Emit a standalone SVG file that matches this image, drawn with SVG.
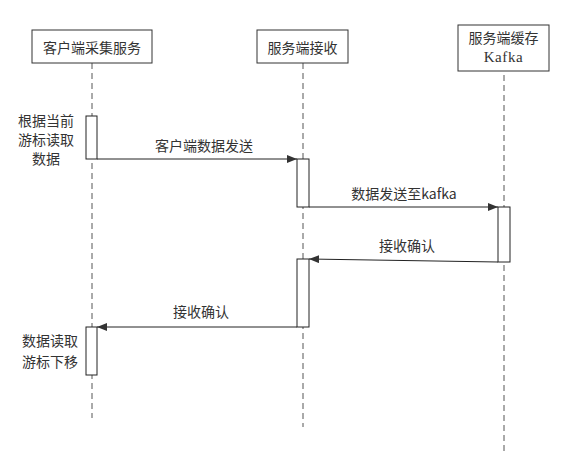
<svg xmlns="http://www.w3.org/2000/svg" width="566" height="461" viewBox="0 0 566 461">
<style>
.box{fill:#fff;stroke:#333;stroke-width:1}
.act{fill:#fff;stroke:#222;stroke-width:1}
.life{stroke:#555;stroke-width:1;stroke-dasharray:6,4;fill:none}
.msg{stroke:#222;stroke-width:1;fill:none}
.t{font-family:"Noto Sans CJK SC","Liberation Sans",sans-serif;font-size:14px;fill:#333;text-anchor:middle}
.m{font-family:"Liberation Serif",serif;font-size:15px;fill:#333;text-anchor:middle;letter-spacing:0.6px}
</style>
<defs>
<marker id="ah" markerWidth="10" markerHeight="8" refX="10" refY="4" orient="auto" markerUnits="userSpaceOnUse">
<path d="M0,0 L10,4 L0,8 Z" fill="#333"/>
</marker>
</defs>
<rect width="566" height="461" fill="#fff"/>
<g id="lifelines">
<line class="life" x1="92" y1="63" x2="92" y2="418"/>
<line class="life" x1="303" y1="63" x2="303" y2="427"/>
<line class="life" x1="504" y1="75" x2="504" y2="452"/>
</g>
<g id="client">
<rect class="box" x="32" y="30" width="120" height="33"/>
<text class="t" x="92" y="53">客户端采集服务</text>
</g>
<g id="server">
<rect class="box" x="257" y="30" width="91" height="33"/>
<text class="t" x="302.5" y="53">服务端接收</text>
</g>
<g id="kafka">
<rect class="box" x="458" y="25" width="91" height="46"/>
<text class="t" x="503.5" y="43">服务端缓存</text>
<text class="m" x="503.5" y="62">Kafka</text>
</g>
<g id="act-client-1">
<rect class="act" x="86" y="116" width="11" height="43"/>
<text class="t" x="46" y="126">根据当前</text>
<text class="t" x="46" y="145">游标读取</text>
<text class="t" x="46" y="164">数据</text>
</g>
<g id="act-server-1">
<rect class="act" x="297" y="159" width="12" height="48"/>
</g>
<g id="act-kafka">
<rect class="act" x="498" y="207" width="12" height="55"/>
</g>
<g id="act-server-2">
<rect class="act" x="297" y="259" width="12" height="68"/>
</g>
<g id="act-client-2">
<rect class="act" x="86" y="327" width="11" height="48"/>
<text class="t" x="50" y="346">数据读取</text>
<text class="t" x="50" y="367">游标下移</text>
</g>
<g id="connectors">
<line class="msg" x1="97" y1="159" x2="297" y2="159" marker-end="url(#ah)"/>
<text class="t" x="204" y="151">客户端数据发送</text>
<line class="msg" x1="309" y1="207" x2="498" y2="207" marker-end="url(#ah)"/>
<text class="t" x="404" y="199">数据发送至kafka</text>
<line class="msg" x1="498" y1="262" x2="309" y2="259" marker-end="url(#ah)"/>
<text class="t" x="407" y="251">接收确认</text>
<line class="msg" x1="297" y1="327" x2="97" y2="327" marker-end="url(#ah)"/>
<text class="t" x="201" y="317">接收确认</text>
</g>
</svg>
